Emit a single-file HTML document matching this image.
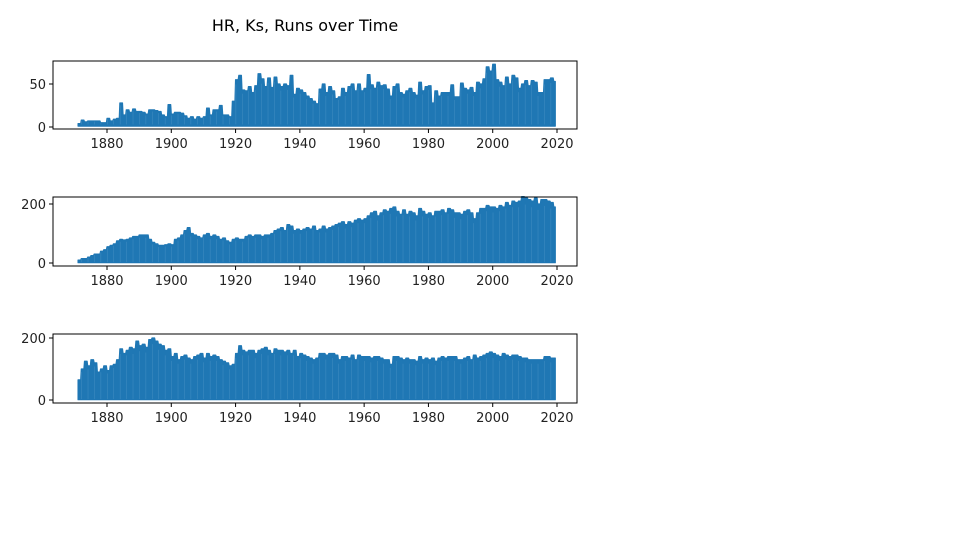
<!DOCTYPE html>
<html><head><meta charset="utf-8">
<style>
html,body{margin:0;padding:0;background:#fff;}
svg{display:block;font-family:"DejaVu Sans","Liberation Sans",sans-serif;}
</style></head>
<body>
<svg id="chart" width="960" height="536" viewBox="0 0 960 536" xmlns="http://www.w3.org/2000/svg">
<rect width="960" height="536" fill="#fff"/>
<text x="305" y="31" font-size="16" text-anchor="middle" fill="#000">HR, Ks, Runs over Time</text>
</svg>
<script>
const startYear = 1871;
const xTicks = [1880, 1900, 1920, 1940, 1960, 1980, 2000, 2020];
const hrMax = [4,8,6,7,7,7,7,5,5,
10,7,9,10,28,14,20,17,21,18,
18,17,15,20,20,19,18,14,12,26,
15,17,17,16,13,10,12,9,12,10,
12,22,14,20,20,25,14,14,12,30,
55,60,43,42,47,40,48,62,56,47,
57,46,58,50,47,50,48,60,38,45,
43,40,36,33,30,27,44,50,40,47,
42,33,35,45,40,47,50,42,50,42,
45,61,49,45,52,48,49,44,36,47,
50,40,38,42,45,40,37,52,42,47,
48,28,42,36,40,40,40,49,35,35,
51,45,43,46,40,52,50,56,70,65,
73,55,52,48,58,50,60,57,45,50,
54,48,54,52,40,40,55,55,57,53];
const ksMax = [10,15,15,20,25,30,30,40,45,
55,60,65,75,80,78,80,85,90,90,
95,95,95,80,70,65,60,60,62,65,
62,80,85,95,110,120,100,95,90,85,
95,100,90,95,90,80,85,75,70,80,
85,80,80,90,95,90,95,95,90,95,
95,100,110,115,120,110,130,125,110,115,
110,115,120,115,125,110,115,125,115,120,
125,130,135,140,130,140,135,145,150,145,
150,160,170,175,160,170,180,175,185,190,
175,165,180,165,175,170,160,185,175,165,
170,160,175,175,180,170,185,180,170,170,
165,175,180,170,150,170,185,185,195,190,
190,185,195,190,205,195,210,205,210,225,
220,215,210,220,200,215,215,210,205,190];
const runsMax = [65,100,125,110,130,120,90,100,110,
95,110,115,130,165,150,160,170,165,190,
175,180,170,195,200,190,180,175,160,165,
140,150,130,140,145,135,130,140,145,150,
135,150,140,145,140,130,125,120,110,115,
150,175,160,155,160,160,150,160,165,170,
160,150,165,160,160,155,160,150,160,140,
150,145,140,135,130,135,150,150,145,150,
150,145,130,140,140,135,145,130,145,140,
140,140,135,140,140,135,130,130,115,140,
140,135,130,135,130,130,125,140,130,135,
130,135,125,135,140,135,140,140,140,130,
130,135,140,130,145,135,140,145,150,155,
150,145,140,150,145,140,145,145,140,135,
135,130,130,130,130,130,140,140,135,135];
const hrTicks = [0, 50];
const ksTicks = [0, 200];
const runsTicks = [0, 200];

const NS = "http://www.w3.org/2000/svg";
const svg = document.getElementById("chart");
const AX_L = 53, AX_R = 577;
function xScale(y){ return 107 + (y - 1880) * (450 / 140); }
function mk(tag, attrs, parent){
  const e = document.createElementNS(NS, tag);
  for (const k in attrs) e.setAttribute(k, attrs[k]);
  (parent || svg).appendChild(e);
  return e;
}
const panels = [
  {name:"hr", data:hrMax, ticks:hrTicks, top:61, bottom:129, y0:127, yv:50, yp:84},
  {name:"ks", data:ksMax, ticks:ksTicks, top:197, bottom:266, y0:263, yv:200, yp:204},
  {name:"runs", data:runsMax, ticks:runsTicks, top:334, bottom:403, y0:400, yv:200, yp:338}
];
panels.forEach(p => {
  const g = mk("g", {});
  
  
  const ys = v => p.y0 - v * (p.y0 - p.yp) / p.yv;
  let d = "M" + xScale(startYear).toFixed(2) + "," + ys(1).toFixed(2);
  p.data.forEach((v, i) => {
    const x0 = xScale(startYear + i), x1 = xScale(startYear + i + 1) - 0.6;
    d += " L" + x0.toFixed(2) + "," + ys(v).toFixed(2) + " L" + Math.min(x1, xScale(startYear + p.data.length - 1) + 1.5).toFixed(2) + "," + ys(v).toFixed(2);
  });
  const xe = xScale(startYear + p.data.length - 1) + 1.5;
  d += " L" + xe.toFixed(2) + "," + ys(1).toFixed(2) + " Z";
  const s = mk("path", {d:d, fill:"#1f77b4", stroke:"#1f77b4", "stroke-width":1.2, "stroke-linejoin":"round"}, g);
  
  
  p.data.forEach((v, i) => {
    if (i % 2 === 1) {
      const x = xScale(startYear + i) + 0.3;
      const l = mk("line", {x1:x, x2:x, y1:ys(v*0.9), y2:ys(3), stroke:"#5a9ccc", "stroke-width":0.5, opacity:0.6}, g);
      
      
    }
  });
  const fr = mk("rect", {x:AX_L, y:p.top, width:AX_R-AX_L, height:p.bottom-p.top, fill:"none", stroke:"#000", "stroke-width":1}, g);
  
  
  xTicks.forEach(t => {
    const x = xScale(t);
    const tl = mk("line", {x1:x, x2:x, y1:p.bottom, y2:p.bottom+4, stroke:"#000", "stroke-width":1}, g);
    
    
    const tx = mk("text", {x:x, y:p.bottom+19, "font-size":13, "text-anchor":"middle", fill:"#222"}, g);
    tx.textContent = t;
    
    
  });
  p.ticks.forEach(t => {
    const y = ys(t);
    const tl = mk("line", {x1:AX_L-4, x2:AX_L, y1:y, y2:y, stroke:"#000", "stroke-width":1}, g);
    
    
    const tx = mk("text", {x:AX_L-7, y:y+5, "font-size":13, "text-anchor":"end", fill:"#222"}, g);
    tx.textContent = t;
    
    
  });
});
</script>
</body></html>
